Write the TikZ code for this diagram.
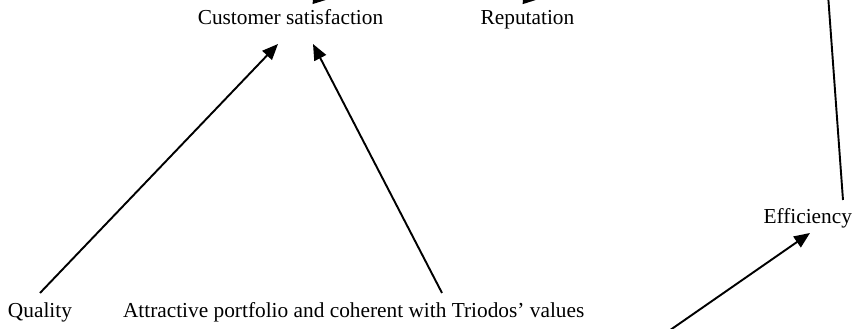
\documentclass[tikz,border=0pt]{standalone}
\usepackage{fontspec}
\setmainfont{Liberation Serif}
\usetikzlibrary{arrows.meta}
\begin{document}
\begin{tikzpicture}[x=0.6pt,y=-0.6pt,
  lbl/.style={inner sep=0pt,outer sep=0pt,font=\fontsize{12.8pt}{15pt}\selectfont},
  conn/.style={line width=1.15pt,-{Triangle[length=9.5pt,width=7.8pt]}}]
\useasboundingbox (0,0) rectangle (861,329);
\clip (0,0) rectangle (861,329);
% labels
\node[lbl,anchor=base] (cs) at (290.5,25) {Customer satisfaction};
\node[lbl,anchor=base] (rep) at (527.5,25) {Reputation};
\node[lbl,anchor=base west] (q) at (8,318) {Quality};
\node[lbl,anchor=base west] (ap) at (123,318) {Attractive portfolio and coherent with Triodos' values};
\node[lbl,anchor=base east] (eff) at (852,224) {Efficiency};
% connector end points
\coordinate (qtop) at (40,293);
\coordinate (aptop) at (442,293);
\coordinate (cstipL) at (278,44);
\coordinate (cstipR) at (313,44);
\coordinate (efftip) at (810,233);
\coordinate (effsrc) at (640,351);
\coordinate (efftop) at (843,200);
\coordinate (above) at (825.5,-40);
\coordinate (csin) at (200,-14.5);
\coordinate (csout) at (329,-1);
\coordinate (repin) at (410,-13.6);
\coordinate (repout) at (539,-1);
% connectors
\draw[conn] (qtop) -- (cstipL);
\draw[conn] (aptop) -- (cstipR);
\draw[conn] (effsrc) -- (efftip);
\draw[conn] (efftop) -- (above);
\draw[conn] (csin) -- (csout);
\draw[conn] (repin) -- (repout);
\end{tikzpicture}
\end{document}
